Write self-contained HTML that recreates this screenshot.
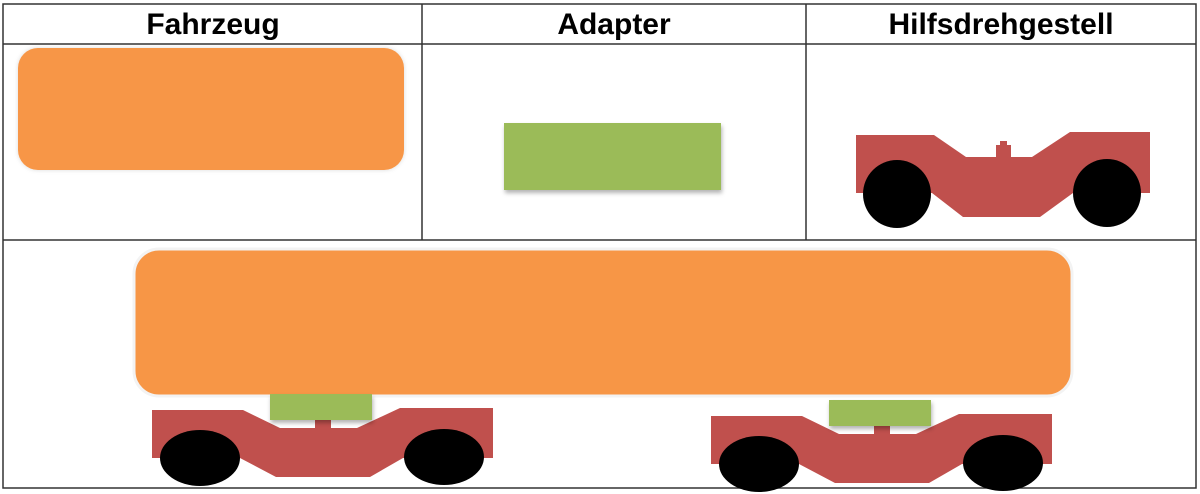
<!DOCTYPE html>
<html><head><meta charset="utf-8"><style>
html,body{margin:0;padding:0;background:#fff;width:1200px;height:494px;overflow:hidden}
svg{display:block}
text{font-family:"Liberation Sans",Arial,sans-serif;font-weight:bold;font-size:30px;fill:#000}
</style></head><body>
<svg width="1200" height="494" viewBox="0 0 1200 494">
<defs>
<filter id="sh" x="-10%" y="-20%" width="120%" height="150%"><feDropShadow dx="1" dy="3" stdDeviation="2" flood-color="#000" flood-opacity="0.3"/></filter>
<filter id="gl" x="-5%" y="-10%" width="110%" height="120%"><feDropShadow dx="0" dy="0" stdDeviation="2" flood-color="#000" flood-opacity="0.15"/></filter>
<g id="bogie">
<polygon fill="#C0504D" points="152,410 243,410 280,428 315,428 315,419 331,419 331,428 357,428 400,408 493,408 493,458 403,458 370,477 276,477 240,458 152,458"/>
<ellipse cx="200" cy="458" rx="40" ry="28" fill="#000"/>
<ellipse cx="444" cy="457" rx="40" ry="28" fill="#000"/>
<rect x="270" y="394" width="102" height="26" fill="#9BBB59" filter="url(#sh)"/>
</g>
</defs>
<g stroke="#333" stroke-width="1.5" fill="none">
<rect x="3" y="4" width="1193" height="484"/>
<line x1="3" y1="44" x2="1196" y2="44"/>
<line x1="3" y1="240" x2="1196" y2="240"/>
<line x1="422" y1="4" x2="422" y2="240"/>
<line x1="806" y1="4" x2="806" y2="240"/>
</g>
<text x="213" y="34" text-anchor="middle">Fahrzeug</text>
<text x="614" y="34" text-anchor="middle">Adapter</text>
<text x="1001" y="34" text-anchor="middle">Hilfsdrehgestell</text>
<rect x="18" y="48" width="386" height="122" rx="20" fill="#F79646" filter="url(#gl)"/>
<rect x="504" y="123" width="217" height="67" fill="#9BBB59" filter="url(#sh)"/>
<polygon fill="#C0504D" points="856,135 934,135 966,157 996,157 996,145 1000,145 1000,141 1007,141 1007,145 1011,145 1011,157 1032,157 1070,132 1150,132 1150,193 1073,193 1040,217 963,217 932,193 856,193"/>
<circle cx="897" cy="194" r="34" fill="#000"/>
<circle cx="1107" cy="193" r="34" fill="#000"/>
<rect x="134" y="249" width="938" height="147" rx="25" fill="#F79646" stroke="#f3f3f3" stroke-width="3"/>
<use href="#bogie"/>
<use href="#bogie" transform="translate(559,6)"/>
</svg>
</body></html>
